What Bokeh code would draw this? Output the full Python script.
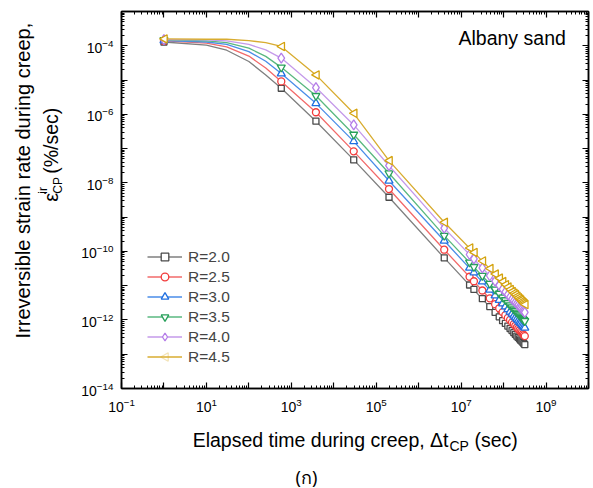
import math
from bokeh.plotting import figure
from bokeh.layouts import column, row
from bokeh.models import (LogAxis, FixedTicker, Label, Legend, LegendItem, Range1d,
                          ColumnDataSource, PolyAnnotation)
from bokeh.core.properties import value
from bokeh.embed import file_html
from bokeh.resources import INLINE

# ---------------- data ----------------
series_names = ["R=2.0", "R=2.5", "R=3.0", "R=3.5", "R=4.0", "R=4.5"]

# marker times (sec)
t_markers = [1.0, 580.0, 3800.0, 2.95e4, 2.0e5, 4.0e6, 1.58e7, 2.0e7,
             3.16e7, 4.73e7, 6.31e7, 7.89e7, 9.47e7, 1.10e8, 1.26e8, 1.42e8, 1.58e8,
             1.74e8, 1.89e8, 2.05e8, 2.21e8, 2.37e8, 2.52e8, 2.68e8, 2.84e8, 3.00e8, 3.16e8]
# log10 of the irreversible strain rate (%/sec) at the markers
r20_m_exp = [-3.89, -5.24, -6.20, -7.33, -8.42, -10.19, -10.98, -11.11,
             -11.38, -11.61, -11.78, -11.91, -12.02, -12.10, -12.18, -12.25, -12.31,
             -12.37, -12.42, -12.47, -12.51, -12.55, -12.59, -12.62, -12.65, -12.69, -12.72]
r25_m_exp = [-3.86, -5.04, -5.94, -7.08, -8.18, -9.95, -10.74, -10.87,
             -11.14, -11.37, -11.54, -11.66, -11.77, -11.86, -11.94, -12.00, -12.07,
             -12.12, -12.17, -12.22, -12.26, -12.30, -12.34, -12.37, -12.41, -12.44, -12.47]
r30_m_exp = [-3.85, -4.81, -5.68, -6.79, -7.94, -9.69, -10.48, -10.62,
             -10.88, -11.12, -11.29, -11.42, -11.52, -11.61, -11.69, -11.76, -11.82,
             -11.88, -11.93, -11.97, -12.02, -12.06, -12.09, -12.13, -12.16, -12.20, -12.23]
r35_m_exp = [-3.83, -4.63, -5.46, -6.59, -7.72, -9.54, -10.32, -10.45,
             -10.71, -10.94, -11.11, -11.23, -11.34, -11.42, -11.50, -11.57, -11.63,
             -11.69, -11.73, -11.78, -11.82, -11.86, -11.90, -11.93, -11.97, -12.00, -12.03]
r40_m_exp = [-3.82, -4.36, -5.22, -6.31, -7.50, -9.32, -10.09, -10.22,
             -10.48, -10.71, -10.87, -10.99, -11.10, -11.18, -11.26, -11.33, -11.39,
             -11.44, -11.49, -11.53, -11.57, -11.62, -11.65, -11.68, -11.72, -11.75, -11.78]
r45_m_exp = [-3.80, -4.02, -4.85, -5.97, -7.35, -9.15, -9.90, -10.03,
             -10.28, -10.50, -10.66, -10.78, -10.88, -10.97, -11.04, -11.11, -11.17,
             -11.22, -11.26, -11.31, -11.35, -11.39, -11.42, -11.46, -11.49, -11.52, -11.55]

# fitted curves, read at these times (sec)
t_line = [1.0, 10.0, 30.0, 100.0, 250.0, 580.0, 3800.0, 2.95e4, 2.0e5, 4.0e6, 3.16e8]
r20_l_exp = [-3.89, -3.98, -4.13, -4.46, -4.85, -5.24, -6.20, -7.33, -8.42, -10.19, -12.72]
r25_l_exp = [-3.86, -3.92, -4.03, -4.30, -4.65, -5.04, -5.94, -7.08, -8.18, -9.95, -12.47]
r30_l_exp = [-3.85, -3.89, -3.96, -4.17, -4.45, -4.81, -5.68, -6.79, -7.94, -9.69, -12.23]
r35_l_exp = [-3.83, -3.86, -3.91, -4.07, -4.31, -4.63, -5.46, -6.59, -7.72, -9.54, -12.03]
r40_l_exp = [-3.82, -3.83, -3.86, -3.96, -4.12, -4.36, -5.22, -6.31, -7.50, -9.32, -11.78]
r45_l_exp = [-3.80, -3.81, -3.81, -3.85, -3.91, -4.02, -4.85, -5.97, -7.35, -9.15, -11.55]

x_decades = [1e-1, 1e0, 1e1, 1e2, 1e3, 1e4, 1e5, 1e6, 1e7, 1e8, 1e9, 1e10]
x_labelled = [1e-1, 1e1, 1e3, 1e5, 1e7, 1e9]
y_decades = [1e-14, 1e-13, 1e-12, 1e-11, 1e-10, 1e-9, 1e-8, 1e-7, 1e-6, 1e-5, 1e-4, 1e-3]
y_labelled = [1e-14, 1e-12, 1e-10, 1e-8, 1e-6, 1e-4]

# ---------------- styling ----------------
FONT = "Liberation Sans"
marker_colors = ["#4a4a4a", "#f23c3c", "#1f6fe0", "#27a05a", "#b57de8", "#d4a20c"]
line_colors = ["#7f7f7f", "#f26a6a", "#4a8de8", "#5ab880", "#c59aea", "#d8ac30"]
markers = ["square", "circle", "triangle", "inverted_triangle", "diamond", None]
sizes = [6, 7, 8, 8, 10, 0]

W_MAIN, H_MAIN = 523, 418
B_LEFT, B_RIGHT, B_TOP, B_BOTTOM = 51, 5, 11, 30
X_LO, X_HI, Y_LO, Y_HI = 1e-1, 1e10, 1e-14, 1e-3

p = figure(width=W_MAIN, height=H_MAIN, x_axis_type="log", y_axis_type="log",
           x_range=Range1d(X_LO, X_HI), y_range=Range1d(Y_LO, Y_HI),
           output_backend="svg", toolbar_location=None,
           min_border_left=B_LEFT, min_border_right=B_RIGHT,
           min_border_top=B_TOP, min_border_bottom=B_BOTTOM)
p.background_fill_color = "white"
p.border_fill_color = "white"
p.outline_line_color = "black"
p.outline_line_width = 1.5
p.xgrid.visible = False
p.ygrid.visible = False


def minor_list(decs):
    out = []
    for d in decs:
        for k in range(2, 10):
            out.append(d * k)
    return out


def style_axis(ax, ticks, show_labels):
    ax.ticker = FixedTicker(ticks=ticks, minor_ticks=minor_list(ticks))
    ax.axis_line_color = "black"
    ax.axis_line_width = 1.5
    ax.major_tick_in = 6
    ax.major_tick_out = 0
    ax.minor_tick_in = 3
    ax.minor_tick_out = 0
    ax.major_tick_line_color = "black"
    ax.minor_tick_line_color = "black"
    ax.major_tick_line_width = 1.2
    ax.minor_tick_line_width = 1
    ax.major_label_text_font = FONT
    ax.major_label_text_font_size = "14px"
    ax.major_label_text_color = "black"
    ax.major_label_standoff = 9
    if not show_labels:
        ax.major_label_text_font_size = "0px"
        ax.major_label_text_alpha = 0


style_axis(p.xaxis[0], x_decades, True)
style_axis(p.yaxis[0], y_decades, True)
p.yaxis[0].major_label_standoff = 8
p.xaxis[0].major_label_overrides = {v: "" for v in x_decades if v not in x_labelled}
p.yaxis[0].major_label_overrides = {v: "" for v in y_decades if v not in y_labelled}

top_ax = LogAxis()
right_ax = LogAxis()
style_axis(top_ax, x_decades, False)
style_axis(right_ax, y_decades, False)
p.add_layout(top_ax, "above")
p.add_layout(right_ax, "right")

marker_exp = [r20_m_exp, r25_m_exp, r30_m_exp, r35_m_exp, r40_m_exp, r45_m_exp]
line_exp = [r20_l_exp, r25_l_exp, r30_l_exp, r35_l_exp, r40_l_exp, r45_l_exp]

# pixels per decade of the plot frame (for the left-pointing triangle outline)
FW = W_MAIN - B_LEFT - B_RIGHT
FH = H_MAIN - B_TOP - B_BOTTOM
PX_X = FW / (math.log10(X_HI) - math.log10(X_LO))
PX_Y = FH / (math.log10(Y_HI) - math.log10(Y_LO))
TIP, BACK, HALF = 4.3, 3.2, 4.2

items = []
for i, name in enumerate(series_names):
    rl = [10 ** e for e in line_exp[i]]
    rm = [10 ** e for e in marker_exp[i]]
    lr = p.line(t_line, rl, line_color=line_colors[i], line_width=1.3)
    if markers[i] is not None:
        src = ColumnDataSource(dict(t=t_markers, r=rm))
        sr = p.scatter("t", "r", source=src, marker=markers[i], size=sizes[i],
                       line_color=marker_colors[i], fill_color="white", line_width=1.3)
        items.append(LegendItem(label=name, renderers=[lr, sr]))
    else:
        xs, ys = [], []
        for t, e in zip(t_markers, marker_exp[i]):
            lx = math.log10(t)
            xs.append([10 ** (lx - TIP / PX_X), 10 ** (lx + BACK / PX_X), 10 ** (lx + BACK / PX_X)])
            ys.append([10 ** e, 10 ** (e + HALF / PX_Y), 10 ** (e - HALF / PX_Y)])
        p.patches(xs, ys, line_color=marker_colors[i], fill_color="white", line_width=1.3)
        items.append(LegendItem(label=name, renderers=[lr]))

LEG_X, LEG_Y, GW, GH, SP = 26, 22, 35, 19, 1
legend = Legend(items=items, location=(LEG_X, LEG_Y), orientation="vertical")
legend.background_fill_alpha = 0
legend.border_line_color = None
legend.padding = 0
legend.margin = 0
legend.spacing = SP
legend.glyph_width = GW
legend.glyph_height = GH
legend.label_height = GH
legend.label_standoff = 6
legend.label_text_font = FONT
legend.label_text_font_size = "15.5px"
legend.label_text_baseline = "middle"
p.add_layout(legend)

# left-pointing triangle drawn over the last legend entry's line
cx, cy = LEG_X + GW / 2, LEG_Y + GH / 2
p.add_layout(PolyAnnotation(xs=[cx - TIP, cx + BACK, cx + BACK], ys=[cy, cy + HALF, cy - HALF],
                            xs_units="screen", ys_units="screen",
                            fill_color="white", fill_alpha=1.0,
                            line_color=marker_colors[5], line_width=1.3))

p.add_layout(Label(x=337, y=340, x_units="screen", y_units="screen", text="Albany sand",
                   text_font=FONT, text_font_size="19.5px", text_color="black"))


# ---------------- text panels (coordinates = canvas pixels, text centred on y) ----------------
def text_panel(w, h, y0):
    f = figure(width=w, height=h, x_range=Range1d(0, w), y_range=Range1d(y0 + h, y0),
               output_backend="svg", toolbar_location=None, min_border=0,
               x_axis_location=None, y_axis_location=None)
    f.outline_line_color = None
    f.grid.visible = False
    f.background_fill_color = "white"
    f.border_fill_color = "white"
    return f


def put(f, x, y, txt, size="20px", align="left", angle=0.0, font=FONT):
    f.text(x=[x], y=[y], text=[txt], angle=angle, text_font=value(font),
           text_font_size=value(size), text_align=align, text_baseline="middle",
           text_color="black")


ypanel = text_panel(70, H_MAIN, 0)
put(ypanel, 22, 187.5, "Irreversible strain rate during creep,", align="center",
    angle=math.pi / 2)
put(ypanel, 50.5, 211, "\u03b5\u0307", angle=math.pi / 2)
put(ypanel, 42, 202, "ir", size="12px", angle=math.pi / 2)
put(ypanel, 57, 202, "CP", size="12px", angle=math.pi / 2)
put(ypanel, 50.5, 180, "(%/sec)", size="19.5px", angle=math.pi / 2)

xpanel = text_panel(593, 488 - H_MAIN, H_MAIN)
put(xpanel, 448, 439.5, "Elapsed time during creep, \u0394t", size="19.5px", align="right")
put(xpanel, 449, 445.5, "CP", size="14px")
put(xpanel, 474, 439.5, "(sec)", size="19.5px")
put(xpanel, 306, 476, "(\u0e01)", size="18px", align="center", font="Noto Sans")

layout = column(row(ypanel, p), xpanel)
open("out.html", "w").write(file_html(layout, INLINE))
